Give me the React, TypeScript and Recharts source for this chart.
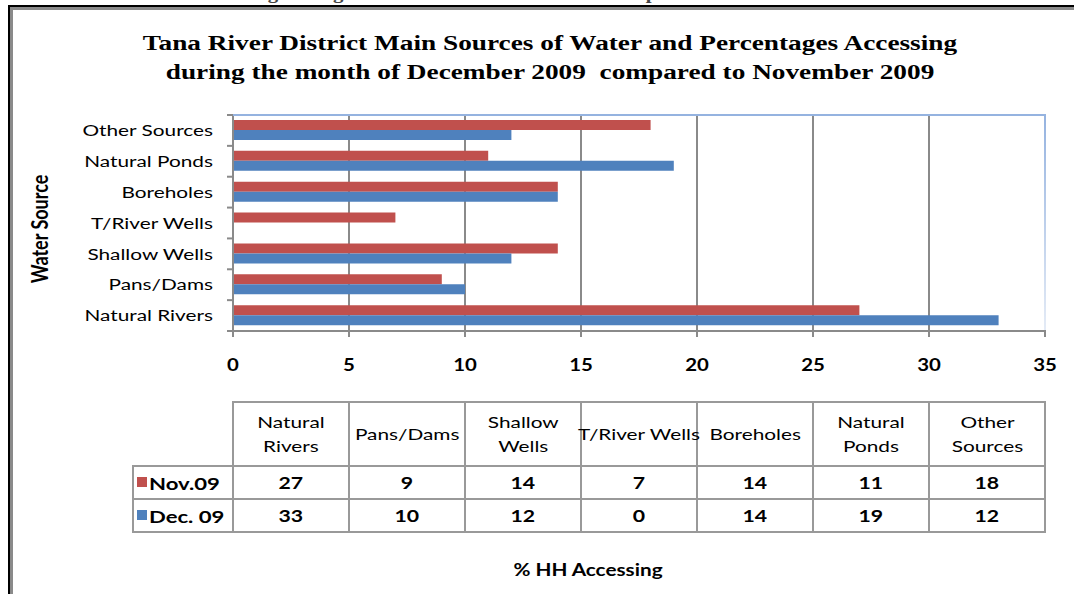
import React from 'react';
import { BarChart, Bar, XAxis, YAxis, CartesianGrid } from 'recharts';

// ---------- data ----------
const categories = ['Natural Rivers', 'Pans/Dams', 'Shallow Wells', 'T/River Wells', 'Boreholes', 'Natural Ponds', 'Other Sources'];
const headerLabels = ['Natural\nRivers', 'Pans/Dams', 'Shallow\nWells', 'T/River Wells', 'Boreholes', 'Natural\nPonds', 'Other\nSources'];
const nov09 = [27, 9, 14, 7, 14, 11, 18];
const dec09 = [33, 10, 12, 0, 14, 19, 12];
const seriesNames = ['Nov.09', 'Dec. 09'];
const xTicks = [0, 5, 10, 15, 20, 25, 30, 35];
const titleLines = [
  'Tana River District Main Sources of Water and Percentages Accessing',
  'during the month of December 2009  compared to November 2009',
];
const topCutText = 'accessing during the month of December 2009 compared to November 2009';
const yAxisTitle = 'Water Source';
const xAxisTitle = '% HH Accessing';

// ---------- style ----------
const W = 1074;
const H = 594;
const RED = '#C0504D';
const BLUE = '#4F81BD';
const GRID = '#8a8a8a';
const SX = 1.3;
const SANS = 'Lato, "Open Sans", sans-serif';
const SERIF = '"Liberation Serif", "DejaVu Serif", serif';
const PLOT_LEFT = 233;
const PLOT_RIGHT = 1045;
const PLOT_TOP = 115;
const PLOT_BOTTOM = 331;
const CHART_H = 400;
const BAND = (PLOT_BOTTOM - PLOT_TOP) / categories.length;

const chartData = categories
  .map((c, i) => ({ name: c, nov: nov09[i], dec: dec09[i] }))
  .reverse();

function YTick(props: any) {
  const { y, payload } = props;
  const isBottom = payload.value === categories[0];
  return (
    <g>
      <text
        transform={`translate(${PLOT_LEFT - 20},${y}) scale(${SX},1)`}
        textAnchor="end"
        dy="0.36em"
        fontFamily={SANS}
        fontSize={16}
        fill="#000"
      >
        {payload.value}
      </text>
      <line x1={PLOT_LEFT - 6} x2={PLOT_LEFT} y1={y - BAND / 2} y2={y - BAND / 2} stroke={GRID} strokeWidth={2} />
      {isBottom && (
        <line x1={PLOT_LEFT - 6} x2={PLOT_LEFT} y1={y + BAND / 2} y2={y + BAND / 2} stroke={GRID} strokeWidth={2} />
      )}
    </g>
  );
}

function XTick(props: any) {
  const { x, payload } = props;
  return (
    <text
      transform={`translate(${x},${PLOT_BOTTOM + 40}) scale(1.2,1)`}
      textAnchor="middle"
      fontFamily={SANS}
      fontWeight={700}
      fontSize={17}
      fill="#000"
    >
      {payload.value}
    </text>
  );
}

const cellBorder = '2px solid #999';

export default function App() {
  return (
    <div style={{ position: 'absolute', left: 0, top: 0, width: W, height: H, overflow: 'hidden', background: '#fff' }}>
      <div style={{ position: 'absolute', left: 0, top: 0 }}>
        <BarChart
          width={W}
          height={CHART_H}
          data={chartData}
          layout="vertical"
          barGap={0}
          margin={{ top: PLOT_TOP, right: W - PLOT_RIGHT, bottom: CHART_H - PLOT_BOTTOM - 30, left: PLOT_LEFT - 100 }}
        >
          <CartesianGrid horizontal={false} vertical stroke={GRID} strokeWidth={2} />
          <XAxis
            type="number"
            domain={[0, 35]}
            ticks={xTicks}
            interval={0}
            height={30}
            axisLine={{ stroke: GRID, strokeWidth: 2 }}
            tickLine={{ stroke: GRID, strokeWidth: 2 }}
            tickSize={6}
            tick={<XTick />}
          />
          <YAxis
            type="category"
            dataKey="name"
            width={100}
            interval={0}
            axisLine={{ stroke: GRID, strokeWidth: 2 }}
            tickLine={false}
            tick={<YTick />}
          />
          <Bar dataKey="nov" name={seriesNames[0]} fill={RED} barSize={10} isAnimationActive={false} />
          <Bar dataKey="dec" name={seriesNames[1]} fill={BLUE} barSize={10} isAnimationActive={false} />
        </BarChart>
      </div>

      <svg width={W} height={H} style={{ position: 'absolute', left: 0, top: 0, pointerEvents: 'none' }}>
        <defs>
          <linearGradient id="rb" x1="0" y1="0" x2="0" y2="1">
            <stop offset="0" stopColor="#95B3E0" />
            <stop offset="1" stopColor="#E4EBF6" />
          </linearGradient>
        </defs>
        {/* cut-off text from the page above */}
        <text
          transform={`translate(530,-1) scale(${SX},1)`}
          textAnchor="middle"
          fontFamily={SERIF}
          fontWeight={700}
          fontSize={16}
          fill="#444"
        >
          {topCutText}
        </text>
        {/* outer frame */}
        <rect x={8} y={5} width={W - 8} height={2} fill="#000" />
        <rect x={8} y={7} width={W - 8} height={3} fill="#8a8a8a" />
        <rect x={8} y={5} width={2} height={H - 5} fill="#000" />
        <rect x={10} y={7} width={3} height={H - 7} fill="#8a8a8a" />
        {/* title */}
        {titleLines.map((t, i) => (
          <text
            key={i}
            transform={`translate(550,${50 + i * 29}) scale(${SX},1)`}
            textAnchor="middle"
            fontFamily={SERIF}
            fontWeight={700}
            fontSize={21}
            fill="#000"
            style={{ whiteSpace: 'pre' }}
          >
            {t}
          </text>
        ))}
        {/* plot border top/right */}
        <line x1={PLOT_LEFT} x2={PLOT_RIGHT + 1} y1={PLOT_TOP} y2={PLOT_TOP} stroke="#95B3E0" strokeWidth={2} />
        <rect x={PLOT_RIGHT - 1} y={PLOT_TOP} width={2} height={PLOT_BOTTOM - PLOT_TOP - 1} fill="url(#rb)" />
        {/* y axis title */}
        <text
          transform={`translate(48,229) scale(${SX},1) rotate(-90)`}
          textAnchor="middle"
          fontFamily={SANS}
          fontWeight={700}
          fontSize={18}
          fill="#000"
        >
          {yAxisTitle}
        </text>
        {/* x axis title */}
        <text
          transform={`translate(588,576) scale(1.22,1)`}
          textAnchor="middle"
          fontFamily={SANS}
          fontWeight={700}
          fontSize={17}
          fill="#000"
        >
          {xAxisTitle}
        </text>
      </svg>

      {/* data table */}
      <table
        style={{
          position: 'absolute',
          left: 132,
          top: 401,
          borderCollapse: 'collapse',
          tableLayout: 'fixed',
          width: 100 + 116 * categories.length,
          fontFamily: SANS,
          color: '#000',
        }}
      >
        <colgroup>
          <col style={{ width: 100 }} />
          {categories.map((c) => (
            <col key={c} style={{ width: 116 }} />
          ))}
        </colgroup>
        <tbody>
          <tr style={{ height: 64 }}>
            <td style={{ borderTop: 'none', borderLeft: 'none', borderRight: cellBorder, borderBottom: cellBorder, padding: 0 }} />
            {headerLabels.map((h) => (
              <td key={h} style={{ border: cellBorder, padding: 0, textAlign: 'center', overflow: 'visible' }}>
                <span
                  style={{
                    display: 'inline-block',
                    whiteSpace: 'pre',
                    fontSize: 16,
                    lineHeight: '24px',
                    transform: `scaleX(${SX})`,
                    transformOrigin: 'center',
                  }}
                >
                  {h}
                </span>
              </td>
            ))}
          </tr>
          {[nov09, dec09].map((row, r) => (
            <tr key={r} style={{ height: 33 }}>
              <td style={{ border: cellBorder, padding: '0 0 0 3px', whiteSpace: 'nowrap' }}>
                <span
                  style={{
                    display: 'inline-block',
                    width: 10,
                    height: 10,
                    background: r === 0 ? RED : BLUE,
                    verticalAlign: 'middle',
                    marginRight: 2,
                    position: 'relative',
                    top: -1,
                  }}
                />
                <span
                  style={{
                    display: 'inline-block',
                    fontSize: 17,
                    fontWeight: 700,
                    transform: `scaleX(${SX})`,
                    transformOrigin: 'left',
                    verticalAlign: 'middle',
                  }}
                >
                  {seriesNames[r]}
                </span>
              </td>
              {row.map((v, i) => (
                <td key={i} style={{ border: cellBorder, padding: 0, textAlign: 'center' }}>
                  <span
                    style={{
                      display: 'inline-block',
                      fontSize: 17,
                      fontWeight: 700,
                      transform: `scaleX(1.25)`,
                    }}
                  >
                    {v}
                  </span>
                </td>
              ))}
            </tr>
          ))}
        </tbody>
      </table>
    </div>
  );
}
